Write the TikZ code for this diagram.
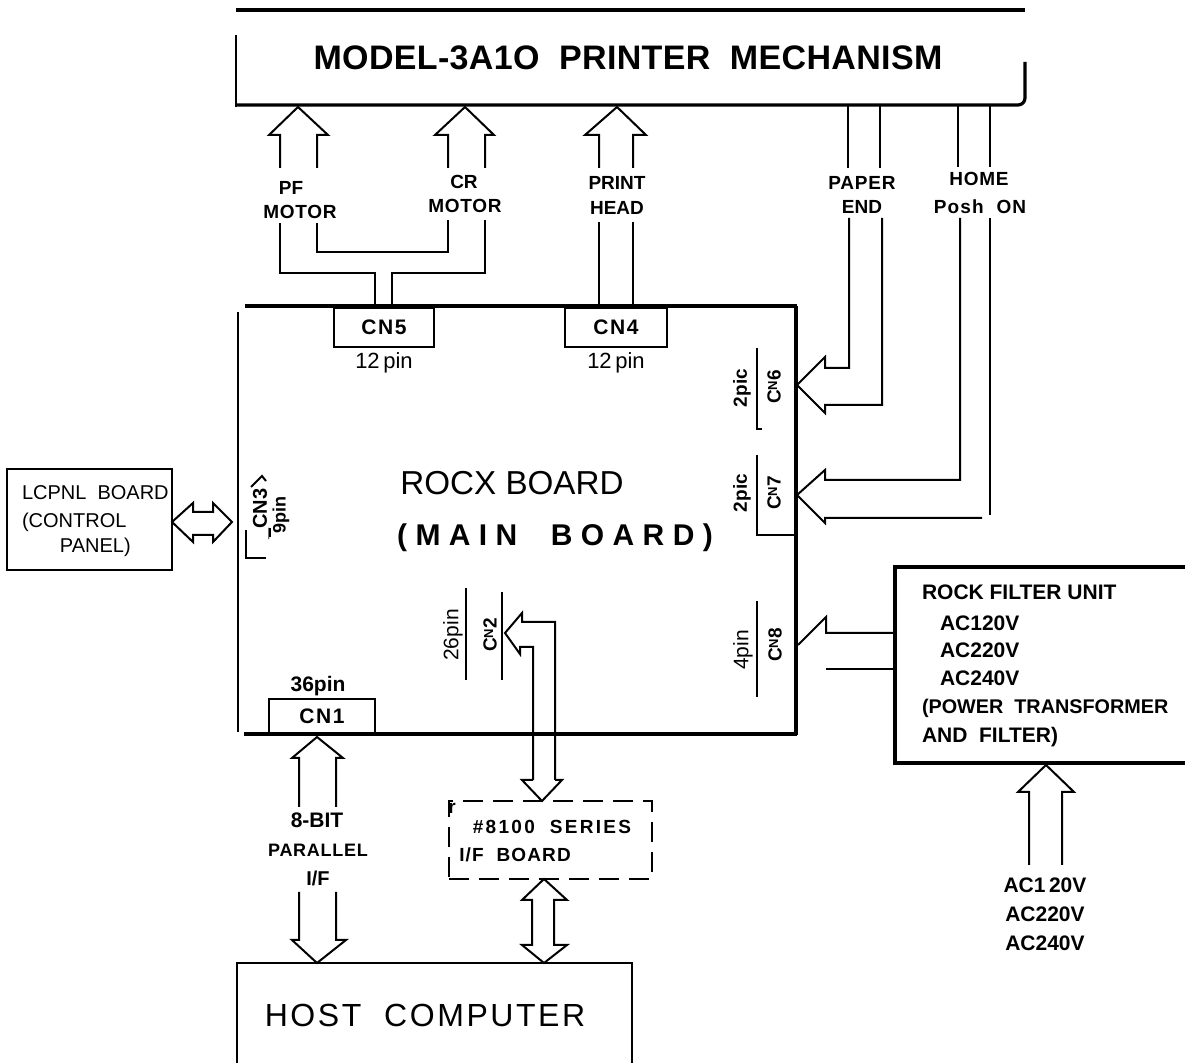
\documentclass[tikz,border=0pt]{standalone}
\usepackage{fontspec}
\setmainfont{Liberation Sans}
\newcommand{\lsp}[1]{\addfontfeature{LetterSpace=#1}}
\newcommand{\cn}[1]{C\raisebox{0.35ex}{\fontsize{6.5}{7}\selectfont N}#1}
\begin{document}
\begin{tikzpicture}[x=0.5pt,y=-0.5pt,line width=1pt,line join=miter,
  every node/.style={inner sep=0pt,outer sep=0pt},
  bx/.style={draw,line width=1pt},
  thk/.style={line width=1.6pt},
  hvy/.style={line width=2pt},
  lb/.style={font=\fontsize{9.5}{11}\selectfont\bfseries},
  lbb/.style={font=\fontsize{10.5}{12}\selectfont\bfseries},
  pinlbl/.style={font=\fontsize{11}{12}\selectfont},
  rot/.style={rotate=90,font=\fontsize{9.5}{11}\selectfont\bfseries},
  dsh/.style={line width=1.3pt,dash pattern=on 10pt off 5pt}]
\useasboundingbox (0,0) rectangle (1185,1063);

% ---------------- printer mechanism
\node (mech) at (628,58) {\fontsize{17}{20}\selectfont\bfseries\lsp{1}MODEL-3A1O\ \ PRINTER\ \ MECHANISM};
\draw[hvy] (236,10) -- (1025,10);
\draw (236,35) -- (236,107);
\draw[thk] (236,105) -- (1018,105) to[out=0,in=-90] (1025,98) -- (1025,62);

% PF / CR / PRINT HEAD arrows
\coordinate (pftip) at (298,107);
\coordinate (crtip) at (465,107);
\coordinate (phtip) at (617,107);
\draw (280,168) -- (280,135) -- (269,135) -- (pftip) -- (328,135) -- (317,135) -- (317,168);
\draw (448,168) -- (448,135) -- (435,135) -- (crtip) -- (494,135) -- (485,135) -- (485,168);
\draw (599,168) -- (599,135) -- (585,135) -- (phtip) -- (646,135) -- (633,135) -- (633,168);
\node[lb] (pf1) at (291,188) {PF};
\node[lb] (pf2) at (300,212) {\lsp{4}MOTOR};
\node[lb] (cr1) at (464,182) {CR};
\node[lb] (cr2) at (465,206) {\lsp{4}MOTOR};
\node[lb] (ph1) at (617,183) {PRINT};
\node[lb] (ph2) at (617,208) {HEAD};

% board
\coordinate (board) at (516,520);
\draw[thk] (245,306) -- (797,306);
\draw[thk] (796,306) -- (796,735);
\draw (238,312) -- (238,732);
\draw[thk] (244,734) -- (797,734);
\node (rocx) at (512,483) {\fontsize{16.6}{18}\selectfont ROCX BOARD};
\node (mainb) at (555,538) {\fontsize{15}{18}\selectfont\bfseries\lsp{28}(MAIN\ \ BOARD)};

% CN5 / CN4
\node[bx,minimum width=50pt,minimum height=19.5pt] (cn5) at (384,327.5) {\fontsize{10.5}{12}\selectfont\bfseries\lsp{8}CN5};
\node[pinlbl] (cn5p) at (384,363) {12\,pin};
\node[bx,minimum width=51pt,minimum height=19.5pt] (cn4) at (616,327.5) {\fontsize{10.5}{12}\selectfont\bfseries\lsp{8}CN4};
\node[pinlbl] (cn4p) at (616,363) {12\,pin};
\draw (280,223) -- (280,273) -- (375,273) -- (375,306);
\draw (317,223) -- (317,252) -- (448,252) -- (448,220);
\draw (485,220) -- (485,273) -- (392,273) -- (392,306);
\draw (599,222) -- (cn4.north -| 599,0);
\draw (633,222) -- (cn4.north -| 633,0);

% PAPER END / HOME
\draw (848,105) -- (848,168);
\draw (880,105) -- (880,168);
\node[lb] (pe1) at (862,183) {\lsp{4}PAPER};
\node[lb] (pe2) at (862,207) {END};
\draw (958,105) -- (958,167);
\draw (990,105) -- (990,167);
\node[lb] (ho1) at (979,179) {\lsp{4}HOME};
\node[lb] (ho2) at (980,207) {\lsp{6}Posh\ \ ON};
\coordinate (cn6tip) at (797,385);
\coordinate (cn7tip) at (797,495);
\draw (849,218) -- (849,368) -- (825,368) -- (825,357) -- (cn6tip) -- (825,413) -- (825,405) -- (882,405) -- (882,218);
\draw (960,218) -- (960,480) -- (825,480) -- (825,470) -- (cn7tip) -- (825,523) -- (825,518) -- (982,518);
\draw (990,218) -- (990,515);

% CN6 / CN7 labels
\draw (757,348) -- (757,423);
\draw (757,421) -- (757,429) -- (762,429);
\node[rot] (cn6a) at (742,388) {2pic};
\node[rot] (cn6b) at (774,387) {\cn{6}};
\draw (757,455) -- (757,535) -- (796,535);
\node[rot] (cn7a) at (742,493) {2pic};
\node[rot] (cn7b) at (774,493) {\cn{7}};

% LCPNL
\node[bx,minimum width=82.5pt,minimum height=50.5pt] (lcpnl) at (89.5,519.5) {};
\node[anchor=west,font=\fontsize{10}{12}\selectfont] at (22,493) {LCPNL\ \ BOARD};
\node[anchor=west,font=\fontsize{10}{12}\selectfont] at (22,522) {(CONTROL};
\node[anchor=west,font=\fontsize{10}{12}\selectfont] at (60,547) {PANEL)};
\coordinate (cn3tip) at (232,522);
\draw (lcpnl.east |- 0,522) -- (193,503) -- (193,512) -- (213,512) -- (213,503) -- (cn3tip) -- (213,542) -- (213,535) -- (193,535) -- (193,542) -- cycle;
\node[rot,font=\fontsize{10}{12}\selectfont\bfseries] (cn3) at (261,514) {\_CN3};
\node[rot,font=\fontsize{9}{11}\selectfont\bfseries] (cn3p) at (281,515) {9pin};
\draw (270,528) -- (270,537);
\draw (246,530) -- (246,558) -- (266,558);
\draw (251,487) -- (262,476) -- (266,481);

% CN2 and I/F board
\node[rot,font=\fontsize{10.5}{12}\selectfont] (cn2a) at (453,635) {26pin};
\draw (466,588) -- (466,680);
\node[rot] (cn2b) at (490,635) {\cn{2}};
\draw (502,592) -- (502,680);
\node[draw,dsh,minimum width=101.5pt,minimum height=39pt] (ifb) at (550.5,840) {};
\node[font=\fontsize{9.5}{11}\selectfont\bfseries] at (452,808) {r};
\node[lb] (ifb1) at (552,827) {\lsp{12}\#8100\ \ SERIES};
\node[lb] (ifb2) at (515,855) {\lsp{6}I/F\ \ BOARD};
\coordinate (cn2tip) at (505,633);
\draw (533,780) -- (533,647) -- (520,647) -- (520,654) -- (cn2tip) -- (522,613) -- (522,622) -- (555,622) -- (555,780);
\draw (533,780) -- (522,780) -- (ifb.north -| 542,0) -- (562,780) -- (555,780);

% CN1
\node[bx,minimum width=53pt,minimum height=17pt] (cn1) at (322,716) {\fontsize{10.5}{12}\selectfont\bfseries\lsp{8}CN1};
\node[lbb] (cn1p) at (318,686) {36pin};
\draw (299,807) -- (299,758) -- (292,758) -- (317,737) -- (343,758) -- (336,758) -- (336,807);
\node[font=\fontsize{10.5}{12}\selectfont\bfseries] (b1) at (317,820) {8-BIT};
\node[font=\fontsize{9}{11}\selectfont\bfseries] (b2) at (318,850) {\lsp{4}PARALLEL};
\node[font=\fontsize{10}{12}\selectfont\bfseries] (b3) at (318,878) {I/F};

% host
\coordinate (host) at (434,1013);
\draw (237,1063) -- (237,963) -- (632,963) -- (632,1063);
\node (hostt) at (425,1015) {\fontsize{16}{18}\selectfont\lsp{8}HOST\ \ COMPUTER};
\draw (299,892) -- (299,940) -- (292,940) -- (317,963) -- (346,940) -- (336,940) -- (336,892);
\draw (ifb.south -| 544,0) -- (567,900) -- (554,900) -- (554,945) -- (567,945) -- (544,963) -- (522,945) -- (532,945) -- (532,900) -- (522,900) -- cycle;

% CN8 and filter unit
\node[rot,font=\fontsize{10.5}{12}\selectfont] (cn8a) at (743,650) {4pin};
\draw (757,601) -- (757,697);
\node[rot] (cn8b) at (775,645) {\cn{8}};
\coordinate (filter) at (1040,665);
\draw[thk] (1190,567) -- (895,567) -- (895,763) -- (1190,763);
\coordinate (cn8tip) at (798,645);
\draw (895,633) -- (826,633) -- (826,617) -- (cn8tip);
\draw (826,669) -- (895,669);
\node[lbb,anchor=west] at (922,592) {ROCK FILTER UNIT};
\node[lbb,anchor=west] at (940,623) {AC120V};
\node[lbb,anchor=west] at (940,650) {AC220V};
\node[lbb,anchor=west] at (940,678) {AC240V};
\node[font=\fontsize{9.9}{12}\selectfont\bfseries,anchor=west] at (922,708) {(POWER\ \ TRANSFORMER};
\node[lbb,anchor=west] at (922,737) {AND\ \ FILTER)};

% AC input
\coordinate (actip) at (1046,765);
\draw (1029,865) -- (1029,792) -- (1018,792) -- (actip) -- (1074,792) -- (1062,792) -- (1062,865);
\node[lbb] (ac1) at (1045,885) {AC1\,20V};
\node[lbb] (ac2) at (1045,914) {AC220V};
\node[lbb] (ac3) at (1045,943) {AC240V};
\end{tikzpicture}
\end{document}
